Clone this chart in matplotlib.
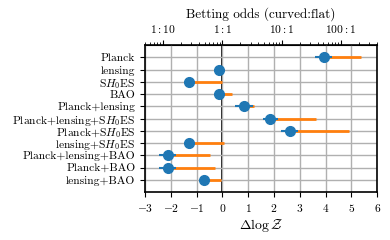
import numpy as np
import matplotlib
matplotlib.use("Agg")
import matplotlib.pyplot as plt
from matplotlib.ticker import FixedLocator, FuncFormatter, LogLocator

plt.rcParams['font.family'] = 'serif'
plt.rcParams['font.serif'] = ['cmr10', 'DejaVu Serif']
plt.rcParams['mathtext.fontset'] = 'cm'
plt.rcParams['axes.unicode_minus'] = False
plt.rcParams['axes.formatter.use_mathtext'] = True
plt.rcParams['font.size'] = 8.3

labels = ['Planck', 'lensing', 'S$H_0$ES', 'BAO', 'Planck+lensing',
          'Planck+lensing+S$H_0$ES', 'Planck+S$H_0$ES', 'lensing+S$H_0$ES',
          'Planck+lensing+BAO', 'Planck+BAO', 'lensing+BAO']
logZ = np.array([3.93, -0.12, -1.28, -0.14, 0.85, 1.86, 2.61, -1.28, -2.12, -2.12, -0.70])
logZ_err = np.array([0.33, 0.08, 0.08, 0.08, 0.35, 0.30, 0.33, 0.08, 0.33, 0.33, 0.08])
logZ_upper = np.array([5.37, -0.12, 0.0, 0.37, 1.24, 3.63, 4.90, 0.05, -0.47, -0.27, -0.05])

y = np.arange(len(labels))

fig, ax = plt.subplots(figsize=(3.9, 2.4), dpi=100)
fig.subplots_adjust(left=0.372, right=0.967, top=0.8125, bottom=0.2)

ax.grid(True, color='#b0b0b0', lw=1.0, zorder=0)
ax.axvline(0, color='k', lw=1.3, zorder=1)
ax.hlines(y, logZ, logZ_upper, color='C1', lw=2, zorder=2)
ax.errorbar(logZ, y, xerr=logZ_err, fmt='o', color='C0', ms=7, lw=1.5, zorder=3)

ax.set_yticks(y)
ax.set_yticklabels(labels)
ax.set_ylim(11, -1)
ax.set_xlim(-3, 6)
ax.set_xticks(np.arange(-3, 7))
ax.set_xlabel(r'$\Delta\log\mathcal{Z}$', fontsize=10, labelpad=2)
for s in ax.spines.values():
    s.set_linewidth(1.2)

top = ax.secondary_xaxis('top', functions=(np.exp, np.log))
top.set_xscale('log')
top.xaxis.set_major_locator(FixedLocator([0.1, 1, 10, 100]))
top.xaxis.set_minor_locator(LogLocator(base=10, subs=np.arange(2, 10)))
odds_fmt = {0.1: '$1:10$', 1: '$1:1$', 10: '$10:1$', 100: '$100:1$'}
top.xaxis.set_major_formatter(FuncFormatter(lambda v, p: odds_fmt.get(round(v, 3), '')))
top.xaxis.set_minor_formatter(FuncFormatter(lambda v, p: ''))
top.set_xlabel('Betting odds (curved:flat)', fontsize=9.5)

fig.savefig('out.png', dpi=100)
